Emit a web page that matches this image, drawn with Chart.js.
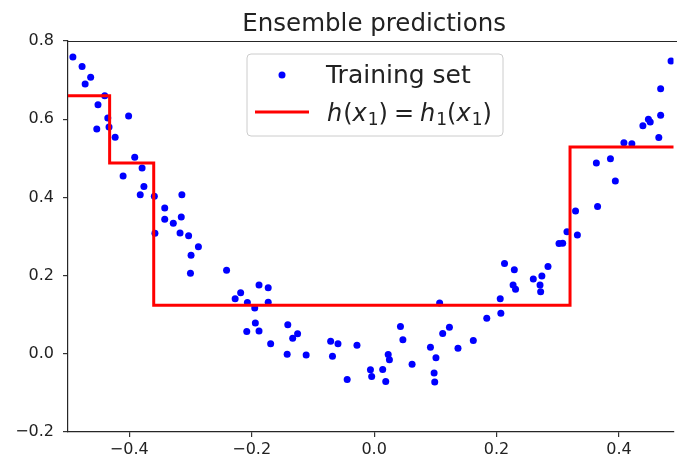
<!DOCTYPE html>
<html>
<head>
<meta charset="utf-8">
<script src="https://cdn.jsdelivr.net/npm/chart.js@4"></script>
<style>
html,body{margin:0;padding:0;background:#fff;}
#wrap{width:677px;height:467px;}
</style>
</head>
<body>
<div id="wrap"><canvas id="c" width="677" height="467"></canvas></div>
<script>
const titleText = "Ensemble predictions";
const trainX = [-0.492,-0.477,-0.463,-0.472,-0.440,-0.451,-0.401,-0.435,-0.453,-0.433,-0.423,-0.391,-0.379,-0.410,-0.376,-0.382,-0.359,-0.314,-0.342,-0.342,-0.315,-0.328,-0.358,-0.317,-0.303,-0.287,-0.299,-0.300,-0.241,-0.227,-0.218,-0.207,-0.195,-0.188,-0.173,-0.173,-0.194,-0.208,-0.188,-0.169,-0.141,-0.133,-0.125,-0.142,-0.111,-0.071,-0.059,-0.068,-0.028,-0.044,-0.006,-0.004,0.014,0.023,0.025,0.019,0.043,0.047,0.062,0.092,0.101,0.098,0.099,0.107,0.112,0.123,0.137,0.162,0.184,0.206,0.207,0.213,0.229,0.227,0.231,0.260,0.274,0.284,0.271,0.272,0.302,0.308,0.315,0.332,0.329,0.365,0.363,0.386,0.394,0.408,0.421,0.439,0.448,0.451,0.465,0.468,0.468,0.485];
const trainY = [0.759,0.735,0.707,0.690,0.660,0.637,0.608,0.603,0.575,0.580,0.554,0.503,0.475,0.455,0.428,0.407,0.403,0.407,0.373,0.344,0.350,0.334,0.308,0.309,0.302,0.274,0.252,0.206,0.214,0.141,0.156,0.131,0.117,0.176,0.169,0.132,0.079,0.057,0.058,0.026,0.074,0.040,0.051,-0.001,-0.003,0.032,0.026,-0.006,0.022,-0.066,-0.041,-0.058,-0.040,-0.002,-0.015,-0.071,0.070,0.036,-0.027,0.017,-0.010,-0.049,-0.072,0.130,0.052,0.068,0.014,0.034,0.091,0.141,0.104,0.231,0.215,0.176,0.165,0.191,0.199,0.223,0.176,0.159,0.282,0.283,0.312,0.304,0.365,0.377,0.488,0.499,0.442,0.540,0.537,0.583,0.600,0.593,0.553,0.610,0.678,0.749];
// step function: segment boundaries and values
const stepEdges = [-0.5, -0.432, -0.360, 0.320, 0.5];
const stepValues = [0.660, 0.488, 0.124, 0.529];
const xTicks = [-0.4, -0.2, 0.0, 0.2, 0.4];
const yTicks = [-0.2, 0.0, 0.2, 0.4, 0.6, 0.8];
const legendLabels = ["Training set", "h(x1) = h1(x1)"];

const scatterData = trainX.map((x, i) => ({x: x, y: trainY[i]}));
const stepData = [{x: stepEdges[0], y: stepValues[0]}];
for (let i = 1; i < stepEdges.length; i++) {
  stepData.push({x: stepEdges[i], y: stepValues[Math.min(i, stepValues.length - 1)]});
}

const fmt = v => { const s = (Math.abs(v) < 1e-9 ? 0 : v).toFixed(1); return s.replace('-', '\u2212'); };
const FONT = "'DejaVu Sans', sans-serif";
const TXT = '#222';

const extras = {
  id: 'extras',
  afterDraw(chart) {
    const ctx = chart.ctx;
    const a = chart.chartArea;
    ctx.save();
    ctx.strokeStyle = '#262626';
    ctx.lineWidth = 1.2;
    ctx.beginPath();
    ctx.moveTo(a.left, a.top + 0.5);
    ctx.lineTo(chart.width, a.top + 0.5);
    ctx.stroke();
    ctx.fillStyle = TXT;
    ctx.font = "24.5px " + FONT;
    ctx.textAlign = 'center';
    ctx.textBaseline = 'alphabetic';
    const xs = chart.scales.x;
    ctx.fillText(titleText, xs.getPixelForValue(0), 30.5);
    const bx = 247, by = 54, bw = 256, bh = 82, r = 4;
    ctx.beginPath();
    ctx.moveTo(bx + r, by);
    ctx.arcTo(bx + bw, by, bx + bw, by + bh, r);
    ctx.arcTo(bx + bw, by + bh, bx, by + bh, r);
    ctx.arcTo(bx, by + bh, bx, by, r);
    ctx.arcTo(bx, by, bx + bw, by, r);
    ctx.closePath();
    ctx.fillStyle = 'rgba(255,255,255,0.8)';
    ctx.fill();
    ctx.strokeStyle = '#cccccc';
    ctx.lineWidth = 1;
    ctx.stroke();
    ctx.fillStyle = '#0000ff';
    ctx.beginPath();
    ctx.arc(282, 75, 3.5, 0, Math.PI * 2);
    ctx.fill();
    ctx.strokeStyle = '#ff0000';
    ctx.lineWidth = 3;
    ctx.beginPath();
    ctx.moveTo(255, 112);
    ctx.lineTo(309, 112);
    ctx.stroke();
    ctx.fillStyle = TXT;
    ctx.textAlign = 'left';
    ctx.font = "25px " + FONT;
    ctx.fillText(legendLabels[0], 326, 83);
    let x = 327; const base = 121;
    const pieces = [
      ['h', 'italic'], ['(', 'normal'], ['x', 'italic'], ['1', 'sub'], [')', 'normal'],
      ['=', 'op'], ['h', 'italic'], ['1', 'sub'], ['(', 'normal'], ['x', 'italic'], ['1', 'sub'], [')', 'normal']
    ];
    for (const [t, st] of pieces) {
      let f, dy = 0, pre = 0, post = 0;
      if (st === 'italic') { f = "italic 24px " + FONT; post = 1; }
      else if (st === 'sub') { f = "17px " + FONT; dy = 4; }
      else if (st === 'op') { f = "24px " + FONT; pre = 6; post = 6; }
      else f = "24px " + FONT;
      ctx.font = f;
      x += pre;
      ctx.fillText(t, x, base + dy);
      x += ctx.measureText(t).width + post;
    }
    ctx.restore();
  }
};

new Chart(document.getElementById('c'), {
  type: 'scatter',
  data: {
    datasets: [
      {
        label: 'Training set',
        data: scatterData,
        backgroundColor: '#0000ff',
        borderColor: '#0000ff',
        pointRadius: 3.5,
        pointHoverRadius: 3.5,
        borderWidth: 0,
        order: 2
      },
      {
        label: 'h',
        type: 'line',
        data: stepData,
        stepped: 'before',
        borderColor: '#ff0000',
        borderWidth: 3,
        pointRadius: 0,
        fill: false,
        order: 1
      }
    ]
  },
  options: {
    responsive: false,
    animation: false,
    events: [],
    layout: {padding: {top: 41, left: 0, right: 0, bottom: 0}},
    plugins: {legend: {display: false}, title: {display: false}, tooltip: {enabled: false}},
    scales: {
      x: {
        type: 'linear', min: -0.5, max: 0.489,
        afterBuildTicks: s => { s.ticks = xTicks.map(v => ({value: v})); },
        afterFit: s => { s.height = 35; },
        grid: {display: true, drawOnChartArea: false, drawTicks: true, tickLength: 5, color: '#333', lineWidth: 1.2},
        border: {display: true, color: '#262626', width: 1.2},
        ticks: {color: TXT, font: {family: FONT, size: 16}, padding: 3, callback: v => fmt(v), maxRotation: 0, autoSkip: false}
      },
      y: {
        type: 'linear', min: -0.2, max: 0.8,
        afterBuildTicks: s => { s.ticks = yTicks.map(v => ({value: v})); },
        afterFit: s => { s.width = 68; },
        grid: {display: true, drawOnChartArea: false, drawTicks: true, tickLength: 5, color: '#333', lineWidth: 1.2},
        border: {display: true, color: '#262626', width: 1.2},
        ticks: {color: TXT, font: {family: FONT, size: 16}, padding: 9, callback: v => fmt(v), autoSkip: false}
      }
    }
  },
  plugins: [extras]
});
</script>
</body>
</html>
